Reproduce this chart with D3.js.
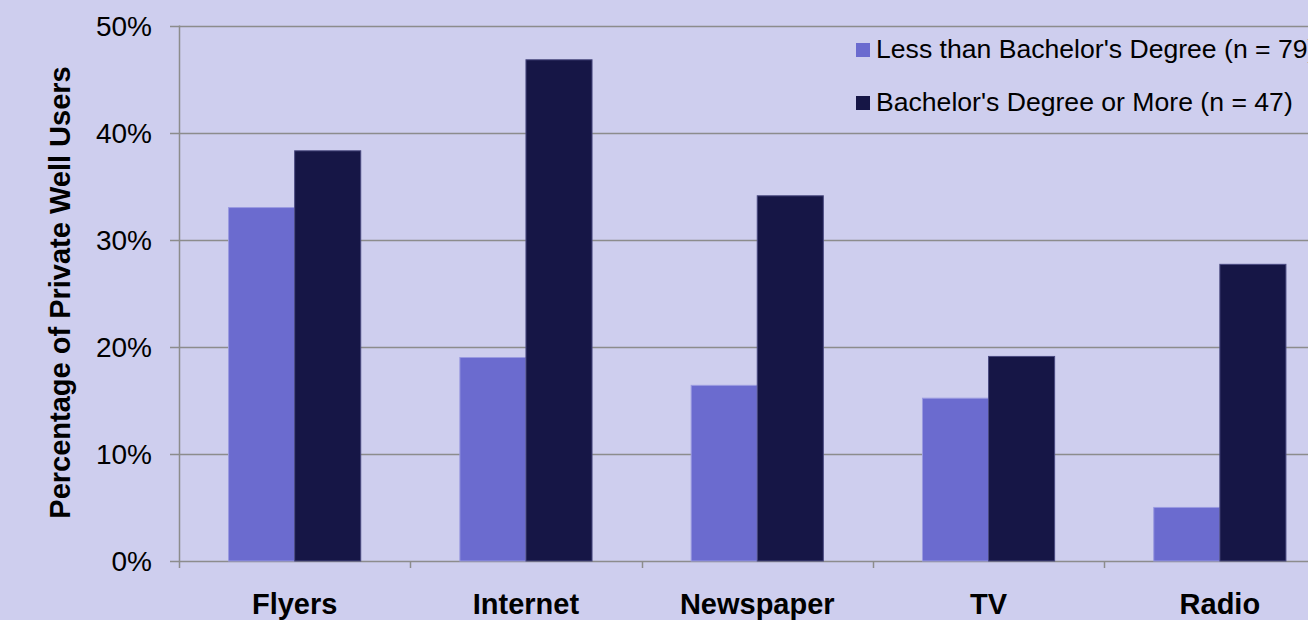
<!DOCTYPE html>
<html>
<head>
<meta charset="utf-8">
<script src="https://cdn.jsdelivr.net/npm/d3@7"></script>
<style>
  html, body { margin: 0; padding: 0; background: #CECEEE; overflow: hidden; }
  svg { display: block; font-family: "Liberation Sans", Arial, sans-serif; }
</style>
</head>
<body>
<svg id="main"></svg>
<script>
// chart data
var categories = ["Flyers", "Internet", "Newspaper", "TV", "Radio"];
var seriesNames = ["Less than Bachelor's Degree (n = 79)", "Bachelor's Degree or More (n = 47)"];
var lessThanBach = [0.330, 0.190, 0.164, 0.152, 0.050];
var bachOrMore = [0.383, 0.468, 0.341, 0.191, 0.277];
var yTicks = [0, 0.1, 0.2, 0.3, 0.4, 0.5];

var colors = ["#6B6BCF", "#161646"];
var strokes = ["#9A9AE0", "#4A4A80"];

var W = 1308, H = 620;
var plotL = 179, plotT = 25.5, plotB = 561;
var bandW = 231.3;

function draw() {
  var s = d3.select("#main").attr("width", W).attr("height", H);
  s.selectAll("*").remove();

  var x = d3.scaleBand().domain(categories)
    .range([plotL, plotL + bandW * categories.length]).padding(0);
  var y = d3.scaleLinear().domain([0, 0.5]).range([plotB, plotT]);

  // gridlines
  s.append("g").selectAll("line")
    .data(yTicks).enter()
    .append("line")
    .attr("x1", plotL - 9).attr("x2", W + 40)
    .attr("y1", function(d) { return Math.round(y(d)) + 0.5; })
    .attr("y2", function(d) { return Math.round(y(d)) + 0.5; })
    .attr("stroke", "#8C8C8C").attr("stroke-width", 1.5);

  // y axis line
  s.append("line")
    .attr("x1", plotL + 0.5).attr("x2", plotL + 0.5)
    .attr("y1", y(0.5)).attr("y2", plotB + 7)
    .attr("stroke", "#8C8C8C").attr("stroke-width", 1.5);

  // category ticks
  s.append("g").selectAll("line")
    .data(categories.slice(1)).enter()
    .append("line")
    .attr("x1", function(d) { return Math.round(x(d)) + 0.5; })
    .attr("x2", function(d) { return Math.round(x(d)) + 0.5; })
    .attr("y1", plotB).attr("y2", plotB + 7)
    .attr("stroke", "#8C8C8C").attr("stroke-width", 1.5);

  // y tick labels
  s.append("g").selectAll("text")
    .data(yTicks).enter()
    .append("text")
    .attr("x", 152).attr("y", function(d) { return y(d) + 10; })
    .attr("text-anchor", "end")
    .attr("font-size", 28).attr("fill", "#000")
    .text(function(d) { return Math.round(d * 100) + "%"; });

  // bars
  var barW = bandW * 0.2857;
  var series = [lessThanBach, bachOrMore];
  series.forEach(function(vals, si) {
    s.append("g").selectAll("rect")
      .data(vals).enter()
      .append("rect")
      .attr("x", function(d, i) { return x(categories[i]) + bandW / 2 - barW + si * barW; })
      .attr("y", function(d) { return y(d); })
      .attr("width", barW)
      .attr("height", function(d) { return plotB - y(d); })
      .attr("fill", colors[si])
      .attr("stroke", strokes[si]).attr("stroke-width", 1);
  });

  // category labels
  s.append("g").selectAll("text")
    .data(categories).enter()
    .append("text")
    .attr("x", function(d) { return x(d) + bandW / 2; })
    .attr("y", 614)
    .attr("text-anchor", "middle")
    .attr("font-size", 29).attr("font-weight", "bold")
    .text(function(d) { return d; });

  // y title
  s.append("text")
    .attr("transform", "translate(70,292.5) rotate(-90)")
    .attr("text-anchor", "middle")
    .attr("font-size", 29).attr("font-weight", "bold")
    .text("Percentage of Private Well Users");

  // legend
  var lg = s.append("g").selectAll("g")
    .data(seriesNames).enter()
    .append("g")
    .attr("transform", function(d, i) { return "translate(856," + (43 + i * 53) + ")"; });
  lg.append("rect")
    .attr("width", 14).attr("height", 14)
    .attr("fill", function(d, i) { return colors[i]; });
  lg.append("text")
    .attr("x", 20).attr("y", 15)
    .attr("font-size", 26.6)
    .text(function(d) { return d; });
}

draw();
</script>
</body>
</html>
